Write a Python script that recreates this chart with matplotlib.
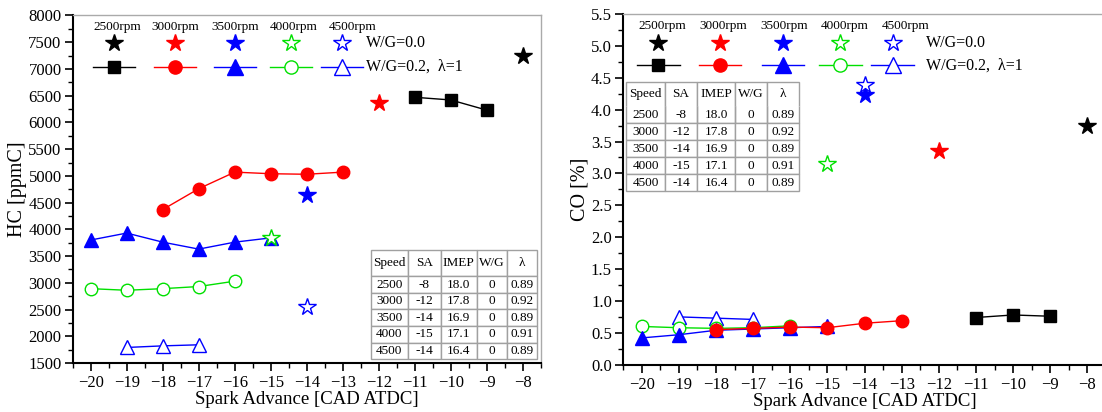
import matplotlib
matplotlib.use("Agg")
import matplotlib.pyplot as plt
from matplotlib.ticker import MultipleLocator

plt.rcParams['font.family'] = ['Liberation Serif', 'DejaVu Serif']

# ---------------- data ----------------
speeds = ["2500rpm", "3000rpm", "3500rpm", "4000rpm", "4500rpm"]
colors = ["black", "#ff0000", "#0000ff", "#00e000", "#0000ff"]
line_markers = ["s", "o", "^", "o", "^"]
filled = [True, True, True, False, False]

# W/G = 0.2, lambda = 1 series (spark advance)
sa_2500 = [-11, -10, -9]
sa_3000 = [-18, -17, -16, -15, -14, -13]
sa_3500 = [-20, -19, -18, -17, -16, -15]
sa_4000 = [-20, -19, -18, -17, -16]
sa_4500 = [-19, -18, -17]

hc_2500 = [6470, 6420, 6230]
hc_3000 = [4370, 4760, 5070, 5040, 5030, 5070]
hc_3500 = [3800, 3930, 3760, 3630, 3760, 3840]
hc_4000 = [2890, 2860, 2890, 2930, 3030]
hc_4500 = [1790, 1820, 1840]

co_2500 = [0.74, 0.78, 0.76]
co_3000 = [0.55, 0.57, 0.59, 0.58, 0.65, 0.69]
co_3500 = [0.42, 0.47, 0.54, 0.56, 0.58, 0.60]
co_4000 = [0.60, 0.58, 0.57, 0.58, 0.61]
co_4500 = [0.75, 0.73, 0.71]

# W/G = 0.0 baseline (stars)
star_sa = [-8, -12, -14, -15, -14]
star_hc = [7250, 6360, 4640, 3840, 2550]
star_co = [3.75, 3.35, 4.23, 3.15, 4.38]

table_cols = ["Speed", "SA", "IMEP", "W/G", "λ"]
table_rows = [["2500", "-8", "18.0", "0", "0.89"],
              ["3000", "-12", "17.8", "0", "0.92"],
              ["3500", "-14", "16.9", "0", "0.89"],
              ["4000", "-15", "17.1", "0", "0.91"],
              ["4500", "-14", "16.4", "0", "0.89"]]

sa_series = [sa_2500, sa_3000, sa_3500, sa_4000, sa_4500]
hc_series = [hc_2500, hc_3000, hc_3500, hc_4000, hc_4500]
co_series = [co_2500, co_3000, co_3500, co_4000, co_4500]

# ---------------- figure ----------------
fig = plt.figure(figsize=(11.02, 4.12), dpi=100)
axL = fig.add_axes([0.066, 0.119, 0.4247, 0.8434])
axR = fig.add_axes([0.5654, 0.1148, 0.4382, 0.8512])

ms_line = {"s": 8, "o": 9, "^": 10.5}


def draw(ax, yseries, ystars, ylim, ymaj, ymin, ylabel, fmt, leg, tab):
    for i in range(5):
        c = colors[i]
        ax.plot(sa_series[i], yseries[i], color=c, lw=1.0, marker=line_markers[i],
                ms=ms_line[line_markers[i]],
                mfc=c if filled[i] else "white", mec=c, mew=1.0, zorder=3 + (5 - i) * 0.1)
    for i in range(5):
        c = colors[i]
        ax.plot([star_sa[i]], [ystars[i]], ls="none", marker="*", ms=13,
                mfc=c if filled[i] else "white", mec=c, mew=1.0, zorder=4)

    ax.set_xlim(-20.5, -7.5)
    ax.set_ylim(*ylim)
    ax.xaxis.set_major_locator(MultipleLocator(1))
    ax.xaxis.set_minor_locator(MultipleLocator(0.5))
    ax.yaxis.set_major_locator(MultipleLocator(ymaj))
    ax.yaxis.set_minor_locator(MultipleLocator(ymin))
    ax.yaxis.set_major_formatter(plt.FormatStrFormatter(fmt))
    ax.tick_params(axis="both", which="major", direction="out", length=6, width=1.2,
                   labelsize=12, top=False, right=False, colors="black")
    ax.tick_params(axis="both", which="minor", direction="out", length=3.5, width=1.0,
                   top=False, right=False)
    ax.tick_params(axis="x", pad=3)
    ax.tick_params(axis="y", pad=2)
    for s in ("left", "bottom"):
        ax.spines[s].set_linewidth(1.5)
        ax.spines[s].set_color("black")
    for s in ("top", "right"):
        ax.spines[s].set_linewidth(1.0)
        ax.spines[s].set_color("#aaaaaa")
    ax.set_xlabel("Spark Advance [CAD ATDC]", fontsize=13.5, labelpad=0)
    ax.set_ylabel(ylabel, fontsize=14.5, labelpad=1)

    # custom legend
    lab_x, star_x, wg_x, y_lab, y_star, y_line, hw = leg
    for i in range(5):
        c = colors[i]
        ax.text(lab_x[i], y_lab, speeds[i], transform=ax.transAxes, ha="center",
                va="center", fontsize=9.5)
        ax.plot([star_x[i]], [y_star], transform=ax.transAxes, marker="*", ms=13,
                mfc=c if filled[i] else "white", mec=c, mew=1.0, ls="none", clip_on=False)
        ax.plot([star_x[i] - hw, star_x[i] + hw], [y_line, y_line], transform=ax.transAxes,
                color=c, lw=1.0, clip_on=False)
        ax.plot([star_x[i]], [y_line], transform=ax.transAxes, marker=line_markers[i],
                ms=ms_line[line_markers[i]] + 0.5,
                mfc=c if filled[i] else "white", mec=c, mew=1.0, ls="none", clip_on=False)
    ax.text(wg_x, y_star, "W/G=0.0", transform=ax.transAxes, ha="left", va="center",
            fontsize=11.5)
    ax.text(wg_x, y_line, "W/G=0.2,  λ=1", transform=ax.transAxes, ha="left", va="center",
            fontsize=11.5)

    # table
    bbox, widths, header_sep, header_ratio = tab
    t = ax.table(cellText=table_rows, colLabels=table_cols, cellLoc="center",
                 colWidths=widths, bbox=bbox, zorder=5)
    t.auto_set_font_size(False)
    t.set_fontsize(9.5)
    cells = t.get_celld()
    base_h = cells[(1, 0)].get_height()
    for (r, cidx), cell in cells.items():
        cell.set_edgecolor("#a0a0a0")
        cell.set_linewidth(1.0)
        cell.set_facecolor("white")
        if r == 0:
            cell.set_height(base_h * header_ratio)
        if not header_sep:
            if r == 0:
                cell.visible_edges = "LRT"
            elif r == 1:
                cell.visible_edges = "LRB"
    return t


tw = [103, 92, 101, 85, 85]
tw = [w / sum(tw) for w in tw]
draw(axL, hc_series, star_hc, (1500, 8000), 500, 250, "HC [ppmC]", "%d",
     ([0.096, 0.220, 0.347, 0.472, 0.597], [0.088, 0.218, 0.346, 0.467, 0.575], 0.627,
      0.966, 0.921, 0.853, 0.045),
     ([0.637, 0.011, 0.356, 0.315], tw, True, 1.6))

tw2 = [113, 92, 110, 93, 91]
tw2 = [w / sum(tw2) for w in tw2]
draw(axR, co_series, star_co, (0.0, 5.5), 0.5, 0.25, "CO [%]", "%.1f",
     ([0.082, 0.208, 0.334, 0.459, 0.585], [0.073, 0.201, 0.331, 0.450, 0.558], 0.628,
      0.966, 0.918, 0.854, 0.044),
     ([0.006, 0.494, 0.358, 0.313], tw2, False, 1.42))

fig.savefig("out.png", dpi=100)
